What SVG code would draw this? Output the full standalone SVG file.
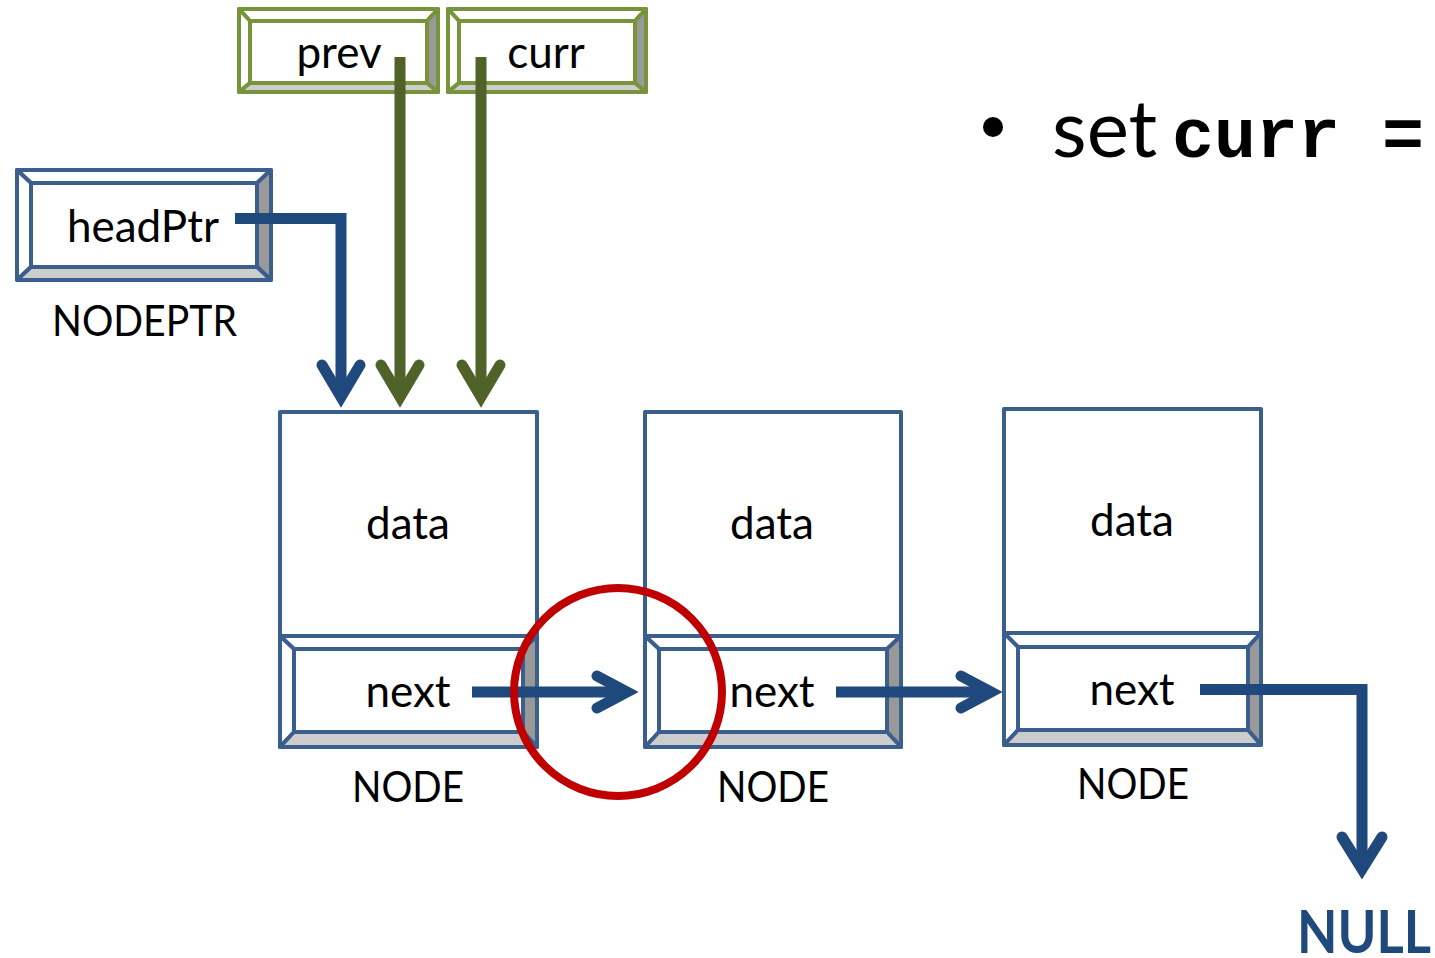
<svg xmlns="http://www.w3.org/2000/svg" width="1435" height="958" viewBox="0 0 1435 958">
<style>
.bx{stroke:#3A5F8F;stroke-width:4;stroke-linejoin:round}
.gx{stroke:#77933C;stroke-width:4;stroke-linejoin:round}
.w{fill:#FFFFFF}
.r{fill:#999999}
.b{fill:#CCCCCC}
.t{font-family:Lato,"Liberation Sans",sans-serif;font-size:44px;fill:#000;text-anchor:middle}
.c{font-family:Lato,"Liberation Sans",sans-serif;font-size:43px;fill:#000}
.ab{fill:none;stroke:#1F497D;stroke-width:11;stroke-linecap:butt;stroke-linejoin:miter}
.ag{fill:none;stroke:#4F6228;stroke-width:11;stroke-linecap:butt;stroke-linejoin:miter}
.hb{fill:none;stroke:#1F497D;stroke-width:11;stroke-linecap:round;stroke-linejoin:miter;stroke-miterlimit:10}
.hg{fill:none;stroke:#4F6228;stroke-width:11;stroke-linecap:round;stroke-linejoin:miter;stroke-miterlimit:10}
</style>
<rect width="1435" height="958" fill="#FFFFFF"/>

<g id="prev">
<polygon class="gx w" points="239,9 438,9 427,21 250,21"/>
<polygon class="gx w" points="239,9 250,21 250,83 239,92"/>
<polygon class="gx r" points="438,9 438,92 427,83 427,21"/>
<polygon class="gx b" points="239,92 438,92 427,83 250,83"/>
<rect class="gx w" x="250" y="21" width="177" height="62"/>
<text class="t" x="339" y="68">prev</text>
</g>

<g id="curr">
<polygon class="gx w" points="448,9 646,9 635,21 459,21"/>
<polygon class="gx w" points="448,9 459,21 459,83 448,92"/>
<polygon class="gx r" points="646,9 646,92 635,83 635,21"/>
<polygon class="gx b" points="448,92 646,92 635,83 459,83"/>
<rect class="gx w" x="459" y="21" width="176" height="62"/>
<text class="t" x="546" y="68">curr</text>
</g>

<g id="headPtr">
<polygon class="bx w" points="17,170 271,170 257,183 31,183"/>
<polygon class="bx w" points="17,170 31,183 31,267 17,280"/>
<polygon class="bx r" points="271,170 271,280 257,267 257,183"/>
<polygon class="bx b" points="17,280 271,280 257,267 31,267"/>
<rect class="bx w" x="31" y="183" width="226" height="84"/>
<text class="t" x="143" y="242">headPtr</text>
<text class="c" x="52" y="336" textLength="185" lengthAdjust="spacingAndGlyphs">NODEPTR</text>
</g>

<g id="node1">
<rect class="bx w" x="280" y="412" width="257" height="224"/>
<polygon class="bx w" points="280,636 537,636 523,649 294,649"/>
<polygon class="bx w" points="280,636 294,649 294,732 280,747"/>
<polygon class="bx r" points="537,636 537,747 523,732 523,649"/>
<polygon class="bx b" points="280,747 537,747 523,732 294,732"/>
<rect class="bx w" x="294" y="649" width="229" height="83"/>
<text class="t" x="408" y="539">data</text>
<text class="t" x="408" y="707">next</text>
<text class="c" x="352" y="802" textLength="112" lengthAdjust="spacingAndGlyphs">NODE</text>
</g>

<g id="node2">
<rect class="bx w" x="645" y="412" width="256" height="224"/>
<polygon class="bx w" points="645,636 901,636 887,649 659,649"/>
<polygon class="bx w" points="645,636 659,649 659,732 645,747"/>
<polygon class="bx r" points="901,636 901,747 887,732 887,649"/>
<polygon class="bx b" points="645,747 901,747 887,732 659,732"/>
<rect class="bx w" x="659" y="649" width="228" height="83"/>
<text class="t" x="772" y="539">data</text>
<text class="t" x="772" y="707">next</text>
<text class="c" x="717" y="802" textLength="112" lengthAdjust="spacingAndGlyphs">NODE</text>
</g>

<g id="node3">
<rect class="bx w" x="1004" y="409" width="257" height="224"/>
<polygon class="bx w" points="1004,633 1261,633 1248,647 1018,647"/>
<polygon class="bx w" points="1004,633 1018,647 1018,730 1004,745"/>
<polygon class="bx r" points="1261,633 1261,745 1248,730 1248,647"/>
<polygon class="bx b" points="1004,745 1261,745 1248,730 1018,730"/>
<rect class="bx w" x="1018" y="647" width="230" height="83"/>
<text class="t" x="1132" y="536">data</text>
<text class="t" x="1132" y="705">next</text>
<text class="c" x="1077" y="799" textLength="112" lengthAdjust="spacingAndGlyphs">NODE</text>
</g>

<g id="connectors">
<path class="ab" d="M235,218.5 H341 V397"/>
<path class="hb" d="M322,365 L341,397 L360,365"/>
<path class="ag" d="M400,57 V397"/>
<path class="hg" d="M381,365 L400,397 L419,365"/>
<path class="ag" d="M481,57 V397"/>
<path class="hg" d="M462,365 L481,397 L500,365"/>
<path class="ab" d="M472,692 H627"/>
<path class="hb" d="M597,676 L627,692 L597,708"/>
<path class="ab" d="M836,692 H991"/>
<path class="hb" d="M961,676 L991,692 L961,708"/>
<path class="ab" d="M1200,689.5 H1362 V869"/>
<path class="hb" d="M1342,837 L1362,869 L1382,837"/>
</g>

<g id="highlight">
<circle cx="618" cy="692" r="104" fill="none" stroke="#C00000" stroke-width="8"/>
</g>

<g id="null">
<text x="1297" y="953" font-family="Lato,'Liberation Sans',sans-serif" font-weight="bold" font-size="60" fill="#1F497D" textLength="134" lengthAdjust="spacingAndGlyphs">NULL</text>
</g>

<g id="bullet">
<circle cx="993" cy="127" r="10" fill="#000"/>
<text x="1052" y="157" font-family="Lato,'Liberation Sans',sans-serif" font-size="80" fill="#000">set</text>
<text x="1172" y="157" font-family="'Liberation Mono',monospace" font-weight="bold" font-size="70" fill="#000">curr =</text>
</g>
</svg>
